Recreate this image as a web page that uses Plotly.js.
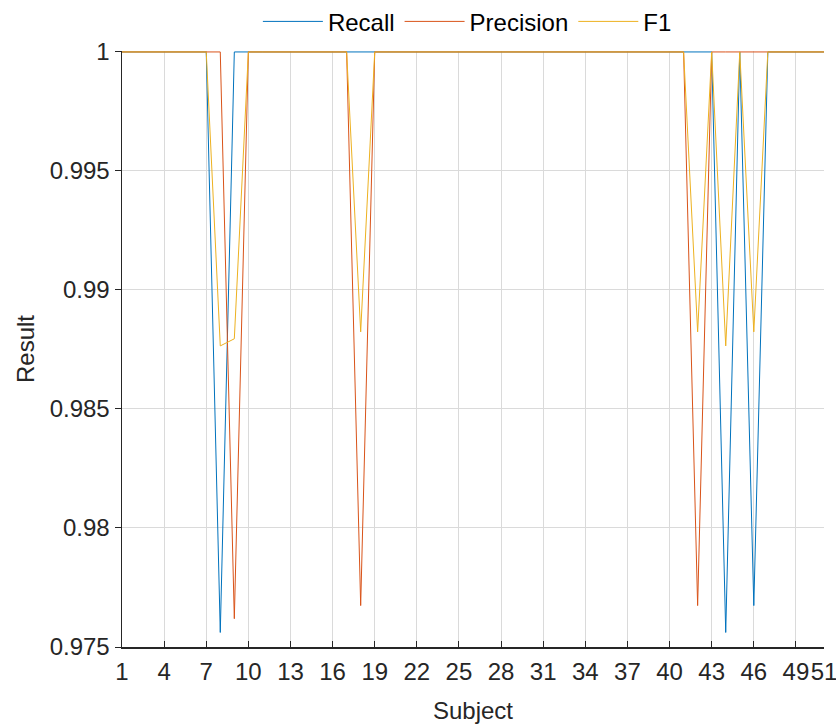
<!DOCTYPE html>
<html>
<head>
<meta charset="utf-8">
<script src="https://cdn.plot.ly/plotly-3.0.1.min.js"></script>
<style>
  html, body { margin: 0; padding: 0; background: #ffffff; }
  #chart { width: 836px; height: 724px; }
</style>
</head>
<body>
<div id="chart"></div>
<script>
// Subject index
const subjects = [1,2,3,4,5,6,7,8,9,10,11,12,13,14,15,16,17,18,19,20,21,22,23,24,25,26,27,28,29,30,31,32,33,34,35,36,37,38,39,40,41,42,43,44,45,46,47,48,49,50,51];

// Recall per subject
const recall = [1,1,1,1,1,1,1,0.97561,1,1,
                1,1,1,1,1,1,1,1,1,1,
                1,1,1,1,1,1,1,1,1,1,
                1,1,1,1,1,1,1,1,1,1,
                1,1,1,0.97561,1,0.97674,1,1,1,1,
                1];

// Precision per subject
const precision = [1,1,1,1,1,1,1,1,0.97619,1,
                   1,1,1,1,1,1,1,0.97674,1,1,
                   1,1,1,1,1,1,1,1,1,1,
                   1,1,1,1,1,1,1,1,1,1,
                   1,0.97674,1,1,1,1,1,1,1,1,
                   1];

// F1 per subject
const f1 = [1,1,1,1,1,1,1,0.98765,0.98795,1,
            1,1,1,1,1,1,1,0.98824,1,1,
            1,1,1,1,1,1,1,1,1,1,
            1,1,1,1,1,1,1,1,1,1,
            1,0.98824,1,0.98765,1,0.98824,1,1,1,1,
            1];

// Tick labels
const xTickVals = [1,4,7,10,13,16,19,22,25,28,31,34,37,40,43,46,49,51];
const xTickText = ["1","4","7","10","13","16","19","22","25","28","31","34","37","40","43","46","49","51"];
const yTickVals = [0.975,0.98,0.985,0.99,0.995,1];
const yTickText = ["0.975","0.98","0.985","0.99","0.995","1"];

const seriesNames = ["Recall","Precision","F1"];
const seriesColors = ["#0072BD","#D95319","#EDB120"];
const seriesData = [recall, precision, f1];

const traces = seriesData.map((ys, i) => ({
  x: subjects,
  y: ys,
  type: "scatter",
  mode: "lines",
  name: seriesNames[i],
  line: { color: seriesColors[i], width: 1 }
}));

const fontFamily = "Liberation Sans, Arial, Helvetica, sans-serif";
const txtColor = "#262626";

const layout = {
  width: 836,
  height: 724,
  paper_bgcolor: "#ffffff",
  plot_bgcolor: "#ffffff",
  margin: { l: 122, r: 12, t: 51, b: 77, pad: 0, autoexpand: false },
  font: { family: fontFamily, size: 24, color: txtColor },
  showlegend: true,
  legend: {
    orientation: "h",
    x: 0.492, xanchor: "center",
    y: 1.049, yanchor: "middle",
    font: { family: fontFamily, size: 24, color: "#000000" },
    bgcolor: "rgba(0,0,0,0)",
    itemwidth: 60,
    traceorder: "normal"
  },
  xaxis: {
    range: [1, 51],
    tickmode: "array",
    tickvals: xTickVals,
    ticktext: xTickText,
    tickangle: 0,
    ticklabeloverflow: "allow",
    ticklabelstandoff: 3,
    ticks: "inside",
    ticklen: 6,
    tickwidth: 1,
    tickcolor: txtColor,
    showline: true,
    linecolor: txtColor,
    linewidth: 1.5,
    mirror: false,
    showgrid: true,
    gridcolor: "#dadada",
    gridwidth: 1,
    zeroline: false,
    automargin: false,
    tickfont: { family: fontFamily, size: 24, color: txtColor },
    title: { text: "Subject", font: { family: fontFamily, size: 24, color: txtColor }, standoff: 18 }
  },
  yaxis: {
    range: [0.975, 1.00004],
    tickmode: "array",
    tickvals: yTickVals,
    ticktext: yTickText,
    ticks: "outside",
    ticklen: 6,
    tickwidth: 1,
    tickcolor: txtColor,
    showline: true,
    linecolor: txtColor,
    linewidth: 1.5,
    mirror: false,
    showgrid: true,
    gridcolor: "#dadada",
    gridwidth: 1,
    zeroline: false,
    automargin: false,
    tickfont: { family: fontFamily, size: 24, color: txtColor },
    title: { text: "Result", font: { family: fontFamily, size: 24, color: txtColor }, standoff: 8 }
  }
};

Plotly.newPlot("chart", traces, layout, { displayModeBar: false, staticPlot: true });
</script>
</body>
</html>
